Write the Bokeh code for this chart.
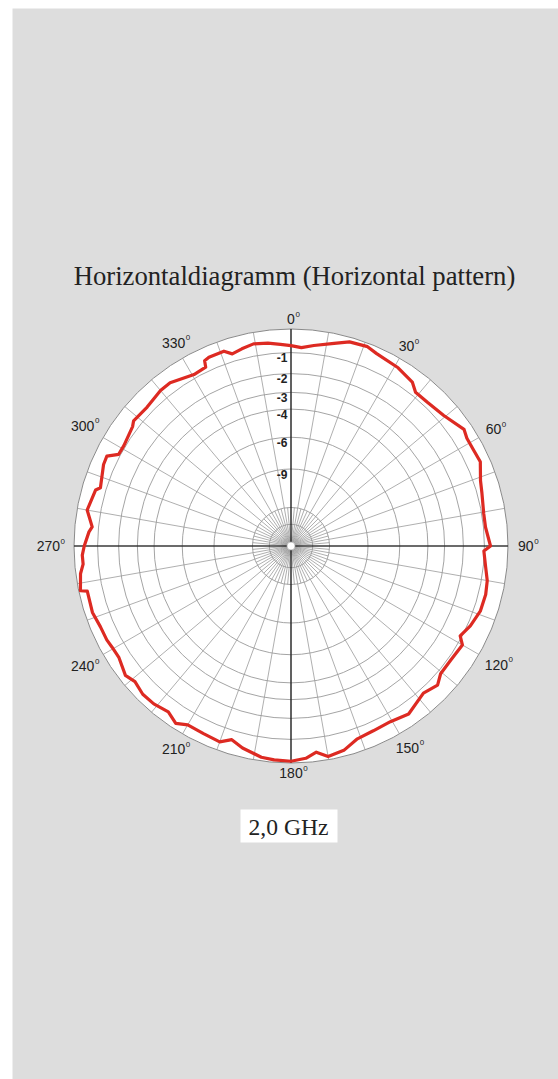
import numpy as np
from bokeh.plotting import figure
from bokeh.models import Range1d
from bokeh.embed import file_html
from bokeh.resources import INLINE
from bokeh.core.properties import value

# ---------------- data ----------------
title_text = "Horizontaldiagramm (Horizontal pattern)"
freq_text = "2,0 GHz"

ring_db = [-1, -2, -3, -4, -6, -9, -15, -20]
ring_labels = ["-1", "-2", "-3", "-4", "-6", "-9"]
angle_ticks = [0, 30, 60, 90, 120, 150, 180, 210, 240, 270, 300, 330]

pattern_deg = [0, 3, 6.5, 12, 16, 21, 24, 31, 36.5, 39, 43.5, 49.5, 56, 58.5,
               62.5, 66, 71, 74.5, 80.5, 84.5, 90, 91.5, 96, 100, 104, 109,
               114, 118, 120, 125.5, 130.5, 133.5, 138, 145, 150.5, 156, 161,
               165.5, 170, 173, 176, 180, 184.5, 188, 193.5, 197, 200, 205,
               210, 213, 216.5, 221, 225, 229, 232, 237, 240.5, 243, 247,
               251.5, 257.5, 258, 262.5, 265, 267.5, 270, 274, 275.5, 280,
               286, 287, 293.5, 296, 298, 301, 307, 308.5, 314, 320, 323.5,
               330.5, 334.5, 335, 336.5, 341, 343, 346, 349.5, 353.5, 357]
pattern_db = [-0.69, -0.77, -0.63, -0.40, -0.19, -0.14, -0.26, -0.37, -0.54,
              -0.80, -0.79, -0.67, -0.34, -0.44, -0.44, -0.40, -0.69, -0.79,
              -0.91, -0.91, -0.73, -1.02, -0.90, -0.74, -0.68, -0.70, -0.87,
              -1.08, -0.80, -0.87, -0.85, -0.62, -0.80, -0.49, -0.63, -0.61,
              -0.54, -0.24, -0.13, -0.38, -0.17, -0.07, -0.10, -0.15, -0.38,
              -0.60, -0.35, -0.41, -0.43, -0.22, -0.44, -0.32, -0.30, -0.42,
              -0.28, -0.49, -0.47, -0.42, -0.41, -0.31, -0.34, -0.07, -0.19,
              -0.34, -0.33, -0.42, -0.60, -0.72, -0.41, -0.57, -0.74, -0.52,
              -0.50, -0.92, -0.93, -0.78, -0.66, -0.71, -0.58, -0.57, -0.84,
              -0.79, -0.52, -0.46, -0.45, -0.67, -0.57, -0.47, -0.53, -0.63]
assert len(pattern_deg) == len(pattern_db)

# ---------------- layout constants ----------------
R = 217.0  # radius of the 0 dB circle (data units == screen px)
GRID = "#9a9a9a"
TXT = "#222222"


def db_to_r(db):
    return R * 10 ** (np.asarray(db, dtype=float) / 20.0)


p = figure(width=558, height=1079,
           x_range=Range1d(-278.5, 267.5), y_range=Range1d(-533.5, 537.5),
           output_backend="svg", toolbar_location=None,
           x_axis_location=None, y_axis_location=None,
           min_border_left=12, min_border_right=0,
           min_border_top=8, min_border_bottom=0)
p.grid.visible = False
p.outline_line_color = None
p.background_fill_color = "#dddddd"
p.border_fill_color = "white"

# outer disc
p.circle(x=[0], y=[0], radius=[R], fill_color="white", line_color="#8a8a8a",
         line_width=1)

# rings
ring_r = db_to_r(ring_db)
p.circle(x=np.zeros(len(ring_r)), y=np.zeros(len(ring_r)), radius=ring_r,
         fill_color=None, line_color=GRID, line_width=0.9)

# spokes every 10 deg across, extra 5 deg spokes near the centre
sp10 = np.radians(np.arange(0, 360, 10))
p.segment(x0=np.zeros(len(sp10)), y0=np.zeros(len(sp10)),
          x1=R * np.sin(sp10), y1=R * np.cos(sp10),
          line_color=GRID, line_width=0.8)
sp5 = np.radians(np.arange(5, 360, 10))
r_in = db_to_r(-15)
p.segment(x0=np.zeros(len(sp5)), y0=np.zeros(len(sp5)),
          x1=r_in * np.sin(sp5), y1=r_in * np.cos(sp5),
          line_color=GRID, line_width=0.8)

# main axes
p.segment(x0=[-R, 0], y0=[0, -R], x1=[R, 0], y1=[0, R],
          line_color="black", line_width=1.1)

# centre hub
p.circle(x=[0], y=[0], radius=[4], fill_color="white", line_color="#bbbbbb",
         line_width=0.8)

# pattern curve
th = np.radians(np.array(pattern_deg + [pattern_deg[0] + 360]))
rr = db_to_r(pattern_db + [pattern_db[0]])
p.line(x=rr * np.sin(th), y=rr * np.cos(th), line_color="#dd2a22",
       line_width=3.2, line_join="round")

# radial dB labels
lab_r = db_to_r([int(s) for s in ring_labels])
p.text(x=[-9] * len(lab_r), y=list(lab_r - 0.5), text=ring_labels,
       text_font=value("Liberation Sans"), text_font_style="bold",
       text_font_size="12px", text_color=TXT, text_align="center",
       text_baseline="top")

# angle labels with superscript degree ("0")
FS = 14.0
lx, ly, ltxt, sx, sy = [], [], [], [], []
for a in angle_ticks:
    n = str(a)
    hw = 0.556 * FS * len(n) / 2.0
    s, c = np.sin(np.radians(a)), np.cos(np.radians(a))
    r = 227.0 + hw * abs(s) + (4.0 * abs(s) if s < -0.01 else 0.0)
    x, y = r * s, r * c
    lx.append(x); ly.append(y); ltxt.append(n)
    sx.append(x + hw + 0.6); sy.append(y + 7.5)
p.text(x=lx, y=ly, text=ltxt, text_font=value("Liberation Sans"),
       text_font_size="14px", text_color=TXT, text_align="center",
       text_baseline="middle")
p.text(x=sx, y=sy, text=["0"] * len(sx), text_font=value("Liberation Sans"),
       text_font_size="8px", text_color=TXT, text_align="left",
       text_baseline="top")

# title
p.text(x=[3.5], y=[270.5], text=[title_text], text_font=value("Liberation Serif"),
       text_font_size="26.7px", text_color=TXT, text_align="center",
       text_baseline="middle")

# frequency box
p.rect(x=[-2], y=[-280], width=[97], height=[33], fill_color="white",
       line_color=None)
p.text(x=[-2.5], y=[-280.5], text=[freq_text], text_font=value("Liberation Serif"),
       text_font_size="23.6px", text_color=TXT, text_align="center",
       text_baseline="middle")

open("out.html", "w").write(file_html(p, INLINE))
